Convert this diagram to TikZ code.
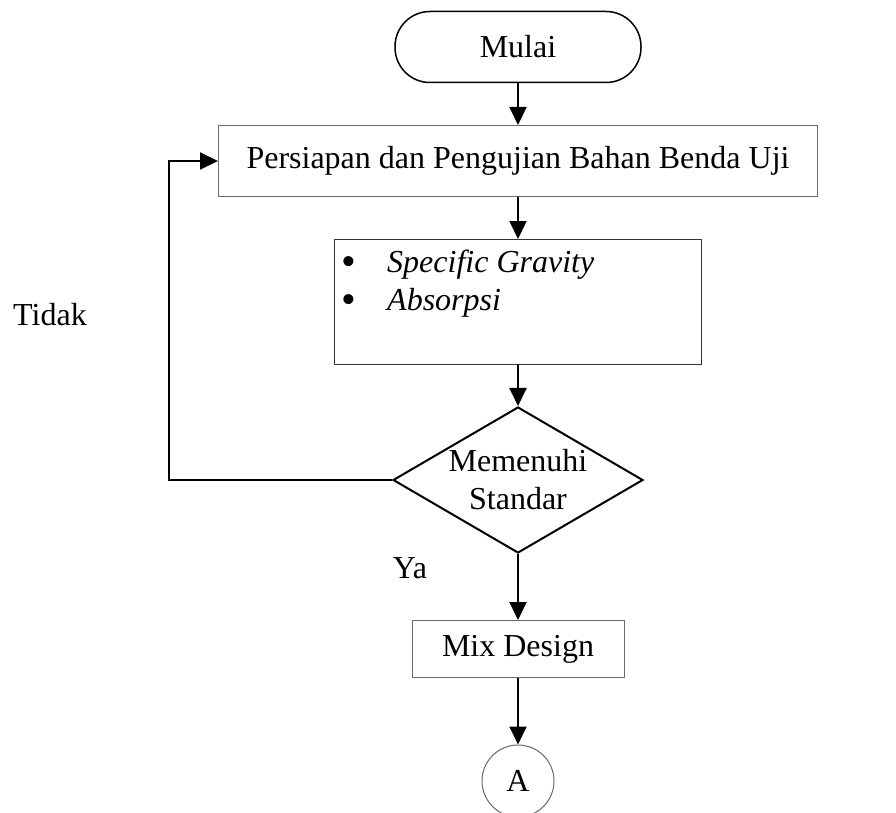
\documentclass[tikz,border=0pt]{standalone}
\usepackage{fontspec}
\setmainfont{Liberation Serif}
\usetikzlibrary{arrows.meta, positioning, shapes.geometric}
\definecolor{BoxGray}{RGB}{105,105,105}
\newcommand{\bigbullet}{\makebox[46pt][l]{\raisebox{-3pt}{\fontsize{42}{42}\selectfont\textbullet}}}
\tikzset{every node/.style={font=\fontsize{32}{38}\selectfont}, every path/.style={line join=miter}, >={Triangle[length=18pt, width=17pt]}}

\begin{document}
\begin{tikzpicture}[x=1pt, y=-1pt,
    terminal/.style={draw, line width=1.5pt, rounded corners=35pt, minimum width=246pt, minimum height=71pt, inner sep=0pt},
    process/.style={draw=BoxGray, line width=1pt, inner sep=0pt},
    decision/.style={draw, diamond, line width=2pt, minimum width=250pt, minimum height=146pt, inner sep=0pt},
    connector/.style={draw=BoxGray, circle, line width=1pt, minimum size=72pt, inner sep=0pt},
    flow/.style={->, line width=2pt}]
    \useasboundingbox (0,0) rectangle (896,813);

    \node [terminal] (start) at (518,47) {Mulai};
    \node [process, minimum width=599pt, minimum height=71pt] (prep) at (518,161) {Persiapan dan Pengujian Bahan Benda Uji};
    \node [process, draw=black!80, minimum width=367pt, minimum height=125pt] (tests) at (518,302) {};
    \node [anchor=base west, inner sep=0pt] (sg) at (341,272) {\bigbullet\textit{Specific Gravity}};
    \node [anchor=base west, inner sep=0pt] (abs) at (341,310) {\bigbullet\textit{Absorpsi}};
    \node [decision, label={[align=center]center:Memenuhi\\Standar}] (check) at (518,480) {};
    \node [process, minimum width=212pt, minimum height=57pt] (mix) at (518,649) {Mix Design};
    \node [connector] (conA) at (518,781) {A};

    \node (yes) at (410,568) {Ya};
    \node (no) at (50,315) {Tidak};

    \draw [flow] (start) -- (prep);
    \draw [flow] (prep) -- (tests);
    \draw [flow] (tests) -- (check);
    \draw [flow] (check) -- (mix);
    \draw [flow] (mix) -- (conA);
    \draw [flow] (check.west) -- ++(-223,0) |- (prep.west);
\end{tikzpicture}
\end{document}
